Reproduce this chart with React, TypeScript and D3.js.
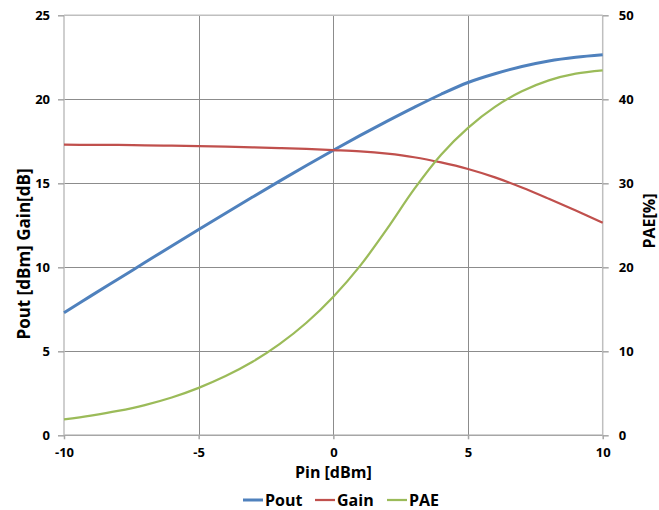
import React, { useEffect, useRef } from "react";
import * as d3 from "d3";

// Input power sweep (dBm)
const pin = [-10, -9, -8, -7, -6, -5, -4, -3, -2, -1, 0, 1, 2, 3, 4, 5, 6, 7, 8, 9, 10];
// Output power (dBm), left axis
const pout = [7.3, 8.3, 9.29, 10.28, 11.27, 12.25, 13.22, 14.18, 15.13, 16.06, 16.97, 17.85, 18.7, 19.52, 20.3, 21.0, 21.52, 21.95, 22.28, 22.5, 22.65];
// Gain (dB), left axis
const gain = [17.3, 17.29, 17.28, 17.26, 17.24, 17.21, 17.18, 17.14, 17.1, 17.05, 16.98, 16.9, 16.76, 16.55, 16.24, 15.85, 15.35, 14.75, 14.08, 13.38, 12.65];
// Power added efficiency (%), right axis
const pae = [1.9, 2.35, 2.9, 3.6, 4.5, 5.65, 7.05, 8.75, 10.85, 13.4, 16.5, 20.2, 24.6, 29.3, 33.4, 36.6, 39.1, 40.95, 42.25, 43.05, 43.45];

const xTicks = [-10, -5, 0, 5, 10];
const leftTicks = [0, 5, 10, 15, 20, 25];
const rightTicks = [0, 10, 20, 30, 40, 50];

const series = [
  { name: "Pout", values: pout, color: "#4F81BD", width: 3, axis: "left" },
  { name: "Gain", values: gain, color: "#C0504D", width: 2.25, axis: "left" },
  { name: "PAE", values: pae, color: "#9BBB59", width: 2.25, axis: "right" },
];

const W = 659;
const H = 510;
const margin = { top: 15.3, right: 56.3, bottom: 74.7, left: 64 };
const font = "'Open Sans', 'Liberation Sans', sans-serif";

function App() {
  const ref = useRef<SVGSVGElement | null>(null);

  useEffect(() => {
    const svg = d3.select(ref.current).html("");
    const x = d3.scaleLinear().domain([-10, 10]).range([margin.left, W - margin.right]);
    const yL = d3.scaleLinear().domain([0, 25]).range([H - margin.bottom, margin.top]);
    const yR = d3.scaleLinear().domain([0, 50]).range([H - margin.bottom, margin.top]);

    const grid = svg.append("g");
    // horizontal gridlines
    grid.selectAll("line.h")
      .data(leftTicks.filter((t) => t > 0 && t < 25))
      .join("line")
      .attr("x1", x(-10)).attr("x2", x(10))
      .attr("y1", (d) => Math.round(yL(d)) + 0.5).attr("y2", (d) => Math.round(yL(d)) + 0.5)
      .attr("stroke", "#8c8c8c").attr("stroke-width", 1);
    // vertical gridlines
    grid.selectAll("line.v")
      .data(xTicks.filter((t) => t > -10 && t < 10))
      .join("line")
      .attr("x1", (d) => Math.round(x(d)) + 0.5).attr("x2", (d) => Math.round(x(d)) + 0.5)
      .attr("y1", yL(25)).attr("y2", yL(0))
      .attr("stroke", "#8c8c8c").attr("stroke-width", 1);

    // frame (axis lines)
    const frameColor = "#bfbfbf";
    grid.append("line").attr("x1", x(-10)).attr("x2", x(10)).attr("y1", yL(25)).attr("y2", yL(25)).attr("stroke", frameColor).attr("stroke-width", 1.5);
    grid.append("line").attr("x1", x(-10)).attr("x2", x(10)).attr("y1", yL(0)).attr("y2", yL(0)).attr("stroke", "#a6a6a6").attr("stroke-width", 1.5);
    grid.append("line").attr("x1", x(-10)).attr("x2", x(-10)).attr("y1", yL(25)).attr("y2", yL(0)).attr("stroke", frameColor).attr("stroke-width", 1.5);
    grid.append("line").attr("x1", x(10)).attr("x2", x(10)).attr("y1", yL(25)).attr("y2", yL(0)).attr("stroke", frameColor).attr("stroke-width", 1.5);

    // axes
    const styleAxis = (g: any) => {
      g.select(".domain").remove();
      g.selectAll(".tick line").attr("stroke", "#a6a6a6").attr("stroke-width", 1.5);
      g.selectAll(".tick text")
        .attr("font-family", font).attr("font-size", 13).attr("font-weight", "bold").attr("fill", "#000");
    };
    const fmt = (d: any) => String(d);
    svg.append("g")
      .attr("transform", `translate(${x(-10)},0)`)
      .call(d3.axisLeft(yL).tickValues(leftTicks).tickFormat(fmt).tickSize(6).tickPadding(8))
      .call(styleAxis);
    svg.append("g")
      .attr("transform", `translate(${x(10)},0)`)
      .call(d3.axisRight(yR).tickValues(rightTicks).tickFormat(fmt).tickSize(6).tickPadding(10))
      .call(styleAxis);
    svg.append("g")
      .attr("transform", `translate(0,${yL(0)})`)
      .call(d3.axisBottom(x).tickValues(xTicks).tickFormat(fmt).tickSize(4).tickPadding(8))
      .call(styleAxis);

    // lines
    const lines = svg.append("g");
    series.forEach((s) => {
      const y = s.axis === "left" ? yL : yR;
      const line = d3.line<number>()
        .x((_, i) => x(pin[i]))
        .y((d) => y(d))
        .curve(d3.curveCatmullRom);
      lines.append("path")
        .datum(s.values)
        .attr("fill", "none")
        .attr("stroke", s.color)
        .attr("stroke-width", s.width)
        .attr("d", line);
    });

    // axis titles
    svg.append("text")
      .attr("x", (x(-10) + x(10)) / 2).attr("y", 478)
      .attr("text-anchor", "middle")
      .attr("font-family", font).attr("font-size", 16).attr("font-weight", "bold")
      .text("Pin [dBm]");
    svg.append("text")
      .attr("transform", `translate(30,254) rotate(-90)`)
      .attr("text-anchor", "middle")
      .attr("font-family", font).attr("font-size", 17).attr("font-weight", "bold")
      .text("Pout [dBm] Gain[dB]");
    svg.append("text")
      .attr("transform", `translate(655,221) rotate(-90)`)
      .attr("text-anchor", "middle")
      .attr("font-family", font).attr("font-size", 16).attr("font-weight", "bold")
      .text("PAE[%]");

    // legend
    const legendX = [243, 315, 387];
    const legend = svg.append("g");
    series.forEach((s, i) => {
      const lx = legendX[i];
      legend.append("line")
        .attr("x1", lx).attr("x2", lx + 20).attr("y1", 500).attr("y2", 500)
        .attr("stroke", s.color).attr("stroke-width", s.width);
      legend.append("text")
        .attr("x", lx + 22).attr("y", 506)
        .attr("font-family", font).attr("font-size", 16).attr("font-weight", "bold")
        .text(s.name);
    });
  }, []);

  return (
    <svg
      ref={ref}
      width={W}
      height={H}
      style={{ position: "absolute", left: 0, top: 0, background: "#fff" }}
    />
  );
}

export default App;
